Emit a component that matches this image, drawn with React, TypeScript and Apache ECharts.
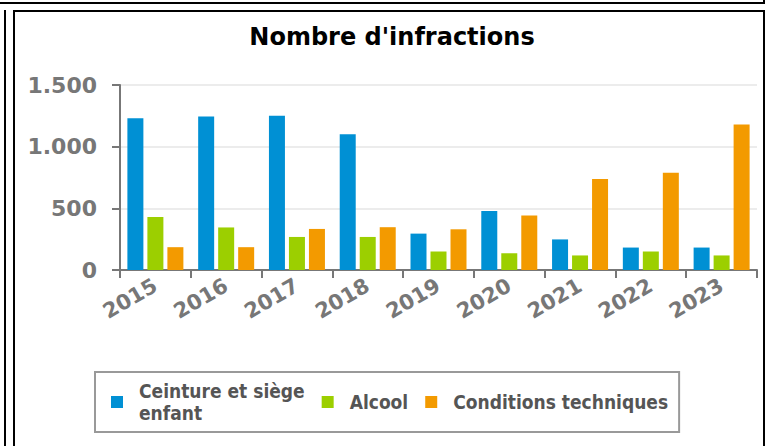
import React, { useEffect, useRef } from "react";
import * as echarts from "echarts";

const categories = ["2015", "2016", "2017", "2018", "2019", "2020", "2021", "2022", "2023"];
const seriesNames = ["Ceinture et siège enfant", "Alcool", "Conditions techniques"];
const ceinture = [1230, 1245, 1250, 1100, 295, 478, 248, 182, 182];
const alcool = [430, 345, 268, 268, 150, 135, 118, 150, 118];
const conditions = [185, 185, 333, 347, 330, 442, 738, 789, 1180];
const yTicks = [0, 500, 1000, 1500];
const colors = ["#0090d4", "#9ccf00", "#f39a00"];

const FONT = "DejaVu Sans, sans-serif";
const FONT_C = "DejaVu Sans Condensed, DejaVu Sans, sans-serif";

export default function App() {
  const ref = useRef<HTMLDivElement>(null);
  useEffect(() => {
    if (!ref.current) return;
    const chart = echarts.init(ref.current, undefined, { renderer: "svg" });
    const values = [ceinture, alcool, conditions];
    chart.setOption({
      animation: false,
      title: {
        text: "Nombre d'infractions",
        left: 387,
        textAlign: "center",
        top: 20,
        textStyle: { fontFamily: FONT, fontSize: 24, fontWeight: "bold", color: "#000" },
      },
      grid: { left: 120, right: 11, top: 85, bottom: 176, containLabel: false },
      legend: {
        left: 95,
        top: 372,
        orient: "horizontal",
        itemWidth: 12,
        itemHeight: 12,
        itemGap: 17,
        padding: [8, 11, 8, 16],
        borderColor: "#999",
        borderWidth: 2,
        icon: "rect",
        formatter: (name: string) => (name === seriesNames[0] ? "Ceinture et siège\nenfant" : name),
        textStyle: {
          fontFamily: FONT_C,
          fontSize: 19,
          fontWeight: "bold",
          color: "#555",
          lineHeight: 22,
          padding: [0, 0, 0, 11],
        },
        data: seriesNames,
      },
      xAxis: {
        type: "category",
        data: categories,
        axisLine: { lineStyle: { color: "#777", width: 2 } },
        axisTick: { show: true, length: 8, lineStyle: { color: "#777", width: 2 } },
        axisLabel: {
          rotate: 30,
          fontFamily: FONT,
          fontSize: 21,
          fontWeight: "bold",
          color: "#777",
          margin: 14,
        },
      },
      yAxis: {
        type: "value",
        min: yTicks[0],
        max: yTicks[yTicks.length - 1],
        interval: 500,
        axisLine: { show: true, lineStyle: { color: "#777", width: 2 } },
        axisTick: { show: true, length: 8, lineStyle: { color: "#777", width: 2 } },
        splitLine: { lineStyle: { color: "#e6e6e6", width: 1.5 } },
        axisLabel: {
          fontFamily: FONT,
          fontSize: 22,
          fontWeight: "bold",
          color: "#777",
          margin: 23,
          formatter: (v: number) => v.toLocaleString("de-DE"),
        },
      },
      series: seriesNames.map((name, i) => ({
        name,
        type: "bar",
        data: values[i],
        barWidth: 16,
        barGap: "25%",
        itemStyle: { color: colors[i] },
      })),
    });
    return () => chart.dispose();
  }, []);

  const line = (s: React.CSSProperties) => (
    <div style={{ position: "absolute", background: "#000", ...s }} />
  );

  return (
    <div style={{ position: "fixed", left: 0, top: 0, width: 768, height: 446, background: "#fff", overflow: "hidden" }}>
      <div ref={ref} style={{ position: "absolute", left: 0, top: 0, width: 768, height: 446 }} />
      {line({ left: 0, top: 2, width: 765, height: 2 })}
      {line({ left: 763, top: 0, width: 2, height: 4 })}
      {line({ left: 4, top: 10, width: 2, height: 436 })}
      {line({ left: 13, top: 10, width: 2, height: 436 })}
      {line({ left: 13, top: 10, width: 752, height: 2 })}
      {line({ left: 763, top: 10, width: 2, height: 436 })}
    </div>
  );
}
